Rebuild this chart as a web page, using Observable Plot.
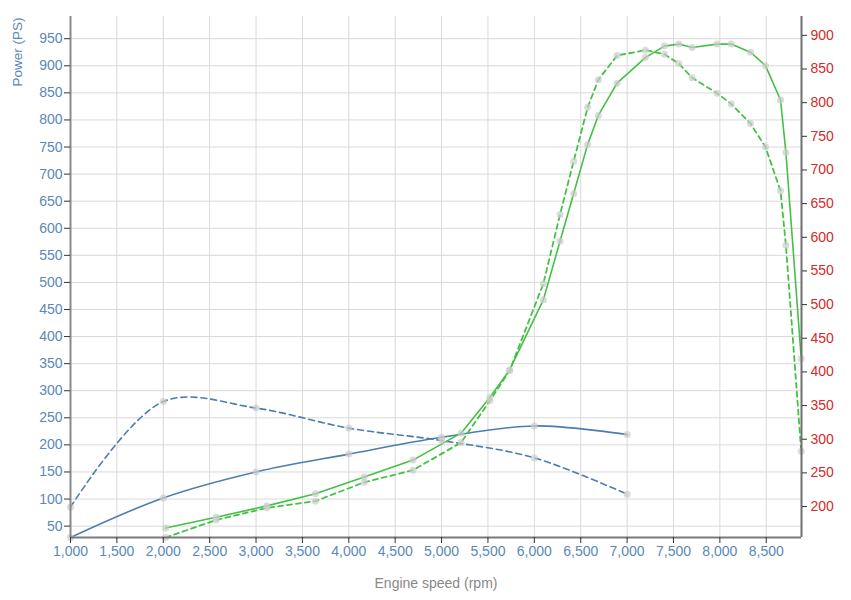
<!DOCTYPE html>
<html>
<head>
<meta charset="utf-8">
<script src="https://cdn.jsdelivr.net/npm/d3@7"></script>
<script src="https://cdn.jsdelivr.net/npm/@observablehq/plot@0.6"></script>
<style>
  html, body { margin: 0; padding: 0; background: #fff; }
  #chart { width: 851px; height: 600px; }
</style>
</head>
<body>
<div id="chart"></div>
<script>
// ---- Data ----
const rpmBlue = [1000, 2000, 3000, 4000, 5000, 6000, 7000];
const powerBlue = [29, 102, 150, 183, 214, 235, 219];
const torqueBlue = [85, 280, 268, 231, 208, 176, 109];

const rpmGreen = [2025, 2570, 3117, 3640, 4166, 4692, 5210, 5520, 5734, 6097, 6277, 6424, 6575, 6690, 6892, 7197, 7402, 7557, 7701, 7970, 8122, 8330, 8492, 8654, 8712, 8877];
const greenSolid = [168, 184, 201, 219, 244, 269, 309, 362, 403, 507, 594, 665, 738, 781, 829, 867, 884, 887, 882, 887, 887, 875, 855, 804, 726, 420];
const greenDashed = [154, 180, 198, 208, 236, 254, 295, 357, 402, 531, 634, 713, 793, 834, 870, 878, 872, 858, 837, 814, 798, 769, 734, 669, 588, 282];

const xTicks = [1000, 1500, 2000, 2500, 3000, 3500, 4000, 4500, 5000, 5500, 6000, 6500, 7000, 7500, 8000, 8500];
const leftTicks = [50, 100, 150, 200, 250, 300, 350, 400, 450, 500, 550, 600, 650, 700, 750, 800, 850, 900, 950];
const rightTicks = [200, 250, 300, 350, 400, 450, 500, 550, 600, 650, 700, 750, 800, 850, 900];

const xDomain = [1000, 8880];
const leftDomain = [29, 991];
const rightDomain = [154, 928];

// ---- Helpers for the secondary (right) axis ----
const toLeft = v => leftDomain[0] + (v - rightDomain[0]) * (leftDomain[1] - leftDomain[0]) / (rightDomain[1] - rightDomain[0]);
const fromLeft = v => rightDomain[0] + (v - leftDomain[0]) * (rightDomain[1] - rightDomain[0]) / (leftDomain[1] - leftDomain[0]);

const blueRows = rpmBlue.map((r, i) => ({rpm: r, power: powerBlue[i], torque: torqueBlue[i]}));
const greenRows = rpmGreen.map((r, i) => ({rpm: r, solid: toLeft(greenSolid[i]), dashed: toLeft(greenDashed[i])}));

const BLUE = "#4a7db0";
const GREEN = "#44c144";
const BLUE_TEXT = "#5a88b8";
const RED_TEXT = "#d42a2a";
const DOT = "#cccccc";

const chart = Plot.plot({
  width: 851,
  height: 600,
  marginLeft: 70,
  marginRight: 50,
  marginTop: 16,
  marginBottom: 63,
  style: {fontFamily: "Arial, 'Liberation Sans', sans-serif", fontSize: "14px", background: "#fff"},
  x: {domain: xDomain},
  y: {domain: leftDomain},
  marks: [
    Plot.gridX(xTicks, {stroke: "#d9d9d9", strokeOpacity: 1, strokeWidth: 1}),
    Plot.gridY(leftTicks, {stroke: "#d9d9d9", strokeOpacity: 1, strokeWidth: 1}),
    // blue series
    Plot.line(blueRows, {x: "rpm", y: "power", stroke: BLUE, strokeWidth: 1.6, curve: "catmull-rom"}),
    Plot.line(blueRows, {x: "rpm", y: "torque", stroke: BLUE, strokeWidth: 1.6, strokeDasharray: "6,4", curve: "catmull-rom"}),
    // green series (right axis)
    Plot.line(greenRows, {x: "rpm", y: "solid", stroke: GREEN, strokeWidth: 1.6}),
    Plot.line(greenRows, {x: "rpm", y: "dashed", stroke: GREEN, strokeWidth: 1.8, strokeDasharray: "5,4"}),
    // point markers
    Plot.dot(blueRows, {x: "rpm", y: "power", r: 3.5, fill: DOT, fillOpacity: 0.7}),
    Plot.dot(blueRows, {x: "rpm", y: "torque", r: 3.5, fill: DOT, fillOpacity: 0.7}),
    Plot.dot(greenRows, {x: "rpm", y: "solid", r: 3.5, fill: DOT, fillOpacity: 0.7}),
    Plot.dot(greenRows, {x: "rpm", y: "dashed", r: 3.5, fill: DOT, fillOpacity: 0.7}),
    // axis lines
    Plot.ruleX([xDomain[0]], {stroke: "#8a8a8a", strokeWidth: 2}),
    Plot.ruleX([xDomain[1]], {stroke: "#707070", strokeWidth: 2}),
    Plot.ruleY([leftDomain[0]], {stroke: "#7a7a7a", strokeWidth: 2}),
    // axes
    Plot.axisX(xTicks, {tickSize: 6, tickPadding: 3, stroke: "#333", fill: BLUE_TEXT, label: null}),
    Plot.axisY(leftTicks, {anchor: "left", tickSize: 6, tickPadding: 2, stroke: "#333", fill: BLUE_TEXT, label: null}),
    Plot.axisY(rightTicks.map(toLeft), {anchor: "right", tickSize: 5, tickPadding: 4, stroke: "#333", fill: RED_TEXT, label: null, tickFormat: d => String(Math.round(fromLeft(d)))}),
    // axis titles
    Plot.text(["Power (PS)"], {frameAnchor: "top-left", text: d => d, rotate: -90, textAnchor: "end", lineAnchor: "middle", dx: -52.5, dy: 1, fill: BLUE_TEXT, fontSize: 13.5}),
    Plot.text(["Engine speed (rpm)"], {frameAnchor: "bottom", text: d => d, lineAnchor: "middle", dy: 46, fill: "#888", fontSize: 14})
  ]
});

document.getElementById("chart").appendChild(chart);
</script>
</body>
</html>
